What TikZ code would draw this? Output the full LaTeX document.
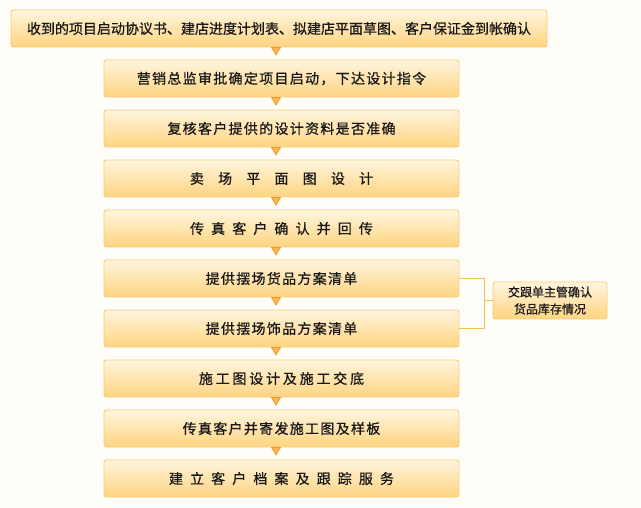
\documentclass[tikz,border=0pt]{standalone}
\usepackage{fontspec}
\newfontfamily\cjk[FakeBold=0.7]{Noto Sans CJK SC}
\usetikzlibrary{calc}
\definecolor{bgc}{HTML}{FFFDF8}
\definecolor{boxtop}{HTML}{FFF5DE}
\definecolor{boxbot}{HTML}{FFD480}
\definecolor{boxline}{HTML}{F8CC78}
\definecolor{tric}{HTML}{F29A22}
\definecolor{trifill}{HTML}{F8B656}
\definecolor{linkc}{HTML}{F6C24E}
\definecolor{txtc}{HTML}{181818}
\newcommand\spreadtxt[2]{\def\spgap{#1}\spreadloop#2\relax\unkern}
\def\spreadloop#1{\ifx\relax#1\else#1\kern\spgap\expandafter\spreadloop\fi}
\tikzset{
  stepbox/.style={draw=boxline, line width=0.9pt, rounded corners=2.5pt,
    top color=boxtop, bottom color=boxbot, inner sep=0pt,
    minimum height=37pt, text=txtc,
    font=\cjk\fontsize{14pt}{17pt}\selectfont},
  mainbox/.style={stepbox, minimum width=355pt},
  notebox/.style={stepbox, minimum width=114pt, align=center,
    font=\cjk\fontsize{12pt}{17pt}\selectfont},
  tri/.style={fill=trifill, draw=tric, line width=0.8pt, line join=miter},
  link/.style={draw=linkc, line width=1.3pt}
}
\begin{document}
\begin{tikzpicture}[x=1pt,y=-1pt]
\fill[bgc] (0,0) rectangle (641,508);
\useasboundingbox (0,0) rectangle (641,508);
\node[stepbox, minimum width=536pt] (b1) at (279,28.5) {收到的项目启动协议书、建店进度计划表、拟建店平面草图、客户保证金到帐确认};
\node[mainbox] (b2) at (281.5,78.5) {\spreadtxt{1.3pt}{营销总监审批确定项目启动，下达设计指令}};
\node[mainbox] (b3) at (281.5,128.5) {\spreadtxt{1.3pt}{复核客户提供的设计资料是否准确}};
\node[mainbox] (b4) at (281.5,178.5) {\spreadtxt{14.2pt}{卖场平面图设计}};
\node[mainbox] (b5) at (281.5,228.5) {\spreadtxt{7.1pt}{传真客户确认并回传}};
\node[mainbox] (b6) at (281.5,278.5) {\spreadtxt{1.3pt}{提供摆场货品方案清单}};
\node[mainbox] (b7) at (281.5,328.5) {\spreadtxt{1.3pt}{提供摆场饰品方案清单}};
\node[mainbox] (b8) at (281.5,378.5) {\spreadtxt{2.8pt}{施工图设计及施工交底}};
\node[mainbox] (b9) at (281.5,428.5) {\spreadtxt{1.3pt}{传真客户并寄发施工图及样板}};
\node[mainbox] (b10) at (281.5,478.5) {\spreadtxt{7.1pt}{建立客户档案及跟踪服务}};
\node[notebox] (s) at (550,300.5) {交跟单主管确认\\货品库存情况};
\foreach \i in {1,...,9}{
  \path[tri] (b\i.south -| 276,0) ++(-4.5,0) -- ++(9,0) -- ++(-4.5,7.5) -- cycle;
}
\draw[link] (b6.east) -- ++(25,0) |- (s.west);
\draw[link] (b7.east) -- ++(25,0) |- (s.west);
\end{tikzpicture}
\end{document}
